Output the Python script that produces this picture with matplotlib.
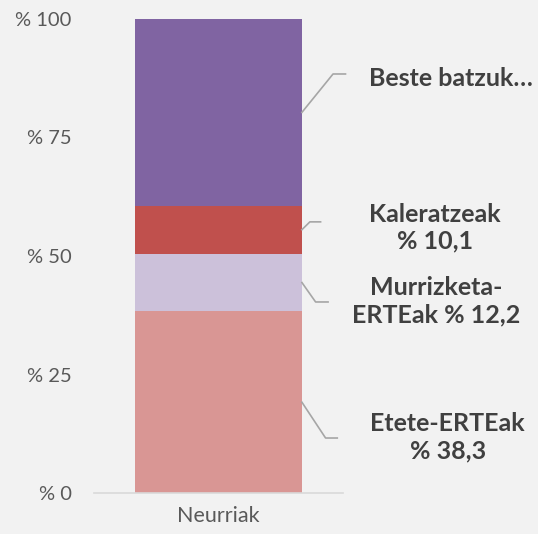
import numpy as np
import matplotlib.pyplot as plt

# Data (percentages, bottom to top)
category = "Neurriak"
labels = ["Etete-ERTEak\n% 38,3", "Murrizketa-\nERTEak % 12,2", "Kaleratzeak\n% 10,1", "Beste batzuk…"]
values = [38.3, 12.2, 10.1, 39.4]
colors = ["#D99694", "#CCC1DA", "#C0504D", "#8064A2"]
yticks = [0, 25, 50, 75, 100]
ytick_labels = ["% 0", "% 25", "% 50", "% 75", "% 100"]

# label layout: (elbow x, elbow y, line end x, text x, text y) in data coords
label_pos = [
    (0.43, 11.6, 0.477, 0.92, 11.8),
    (0.39, 40.3, 0.44, 0.875, 40.5),
    (0.367, 57.2, 0.41, 0.87, 56.0),
    (0.46, 88.4, 0.51, 0.935, 87.5),
]

plt.rcParams['font.family'] = ['Lato', 'DejaVu Sans']
bg = "#F2F2F2"
fig = plt.figure(figsize=(5.38, 5.34), dpi=100, facecolor=bg)
ax = fig.add_axes([94 / 538, 41 / 534, 249 / 538, 474 / 534])
ax.set_facecolor(bg)

bar_w = 0.67
bottoms = np.concatenate([[0], np.cumsum(values)[:-1]])
ax.bar([0] * len(values), values, bottom=bottoms, width=bar_w, color=colors, zorder=2)

ax.set_xlim(-0.5, 0.5)
ax.set_ylim(0, 100)
ax.set_xticks([0])
ax.set_xticklabels([category], fontsize=15.5, color="#595959")
ax.set_yticks(yticks)
ax.set_yticklabels(ytick_labels, fontsize=14.5, color="#595959")
ax.tick_params(length=0, pad=16)
ax.tick_params(axis='x', pad=9)
for s in ["top", "right", "left"]:
    ax.spines[s].set_visible(False)
ax.spines["bottom"].set_color("#D9D9D9")
ax.spines["bottom"].set_linewidth(1.2)

# leader lines and labels
for v, b, lab, (ex, ey, lx, tx, ty) in zip(values, bottoms, labels, label_pos):
    mid = b + v / 2
    ax.plot([bar_w / 2, ex, lx], [mid, ey, ey], color="#A6A6A6", lw=1.2,
            clip_on=False, zorder=3)
    ax.text(tx, ty, lab, ha="center", va="center", fontsize=18, fontweight="bold",
            color="#404040", linespacing=1.2, clip_on=False)

fig.savefig("out.png", dpi=100, facecolor=bg)
